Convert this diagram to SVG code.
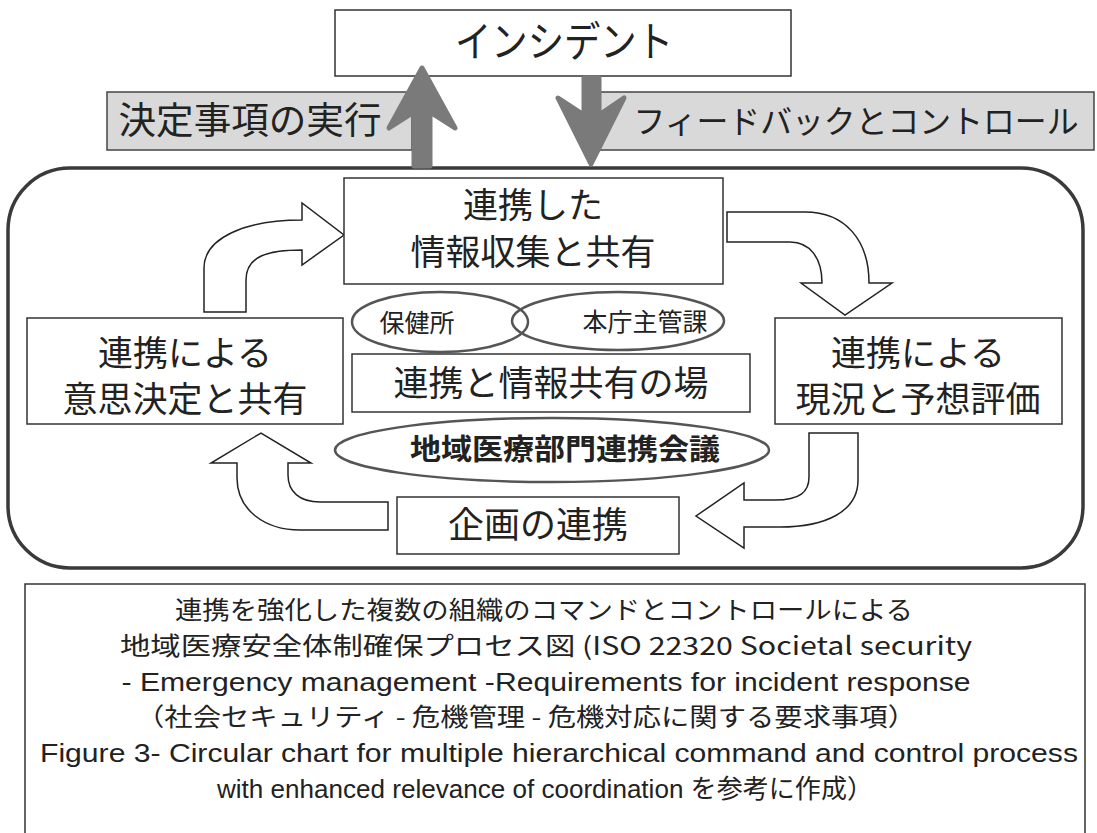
<svg xmlns="http://www.w3.org/2000/svg" width="1097" height="833" viewBox="0 0 1097 833">
<style>
.jp{font-family:"Noto Sans CJK JP","Liberation Sans",sans-serif;fill:#222;text-anchor:middle}
.en{font-family:"Liberation Sans","Noto Sans CJK JP",sans-serif;fill:#222;text-anchor:middle}
.box{fill:#fff;stroke:#333;stroke-width:1.5}
.lbl{fill:#d9d9d9;stroke:#444;stroke-width:1.5}
.ell{fill:none;stroke:#555;stroke-width:2.5}
.oarrow{fill:#fff;stroke:#222;stroke-width:1.5;stroke-linejoin:miter}
.big{fill:#7a7a7a;stroke:#7a7a7a;stroke-width:5;stroke-linejoin:round}
</style>

<g id="frame">
<rect x="8" y="168" width="1075" height="400" rx="62" ry="62" fill="none" stroke="#3a3a3a" stroke-width="3.5"/>
</g>

<g id="label-execute">
<rect class="lbl" x="107" y="92" width="305" height="58"/>
<text class="jp" x="250" y="134" font-size="37" textLength="263" lengthAdjust="spacingAndGlyphs">決定事項の実行</text>
</g>

<g id="label-feedback">
<rect class="lbl" x="593" y="92" width="501" height="58"/>
<text class="jp" x="856" y="133" font-size="32" textLength="445" lengthAdjust="spacingAndGlyphs">フィードバックとコントロール</text>
</g>

<g id="incident">
<rect class="box" x="335" y="10" width="456" height="66"/>
<text class="jp" x="564" y="57" font-size="42" textLength="218" lengthAdjust="spacingAndGlyphs">インシデント</text>
</g>

<g id="connectors">
<path class="big" d="M422,68 L455,128 L430,112 L430,166 L414,166 L414,112 L389,128 Z"/>
<path class="big" d="M584,78 L599,78 L599,115 L624,98 L591,164 L558,98 L584,115 Z"/>
<path class="oarrow" d="M204,312 L204,268 C204,238 245,220 302,220 L302,203 L344,235 L302,265 L302,250 C268,250 246,256 246,280 L246,312 Z"/>
<path class="oarrow" d="M727,212 L805,212 C845,212 869,240 869,283 L892,283 L845,315 L801,283 L822,283 C822,258 810,242 790,242 L727,242 Z"/>
<path class="oarrow" d="M809,433 L858,433 L858,480 C858,512 825,527 780,527 L744,527 L744,548 L696,516 L744,483 L744,500 L775,500 C800,500 809,492 809,477 Z"/>
<path class="oarrow" d="M388,502 L320,502 C300,502 288,492 288,475 L288,463 L311,463 L261,433 L211,463 L237,463 L237,478 C237,510 265,530 300,530 L388,530 Z"/>
</g>

<g id="collect">
<rect class="box" x="344" y="178" width="379" height="106"/>
<text class="jp" x="533" y="218" font-size="35">連携した</text>
<text class="jp" x="533" y="265" font-size="35">情報収集と共有</text>
</g>

<g id="decide">
<rect class="box" x="27" y="318" width="316" height="106"/>
<text class="jp" x="185" y="366" font-size="35">連携による</text>
<text class="jp" x="185" y="412" font-size="35">意思決定と共有</text>
</g>

<g id="assess">
<rect class="box" x="775" y="318" width="287" height="106"/>
<text class="jp" x="918" y="366" font-size="35">連携による</text>
<text class="jp" x="918" y="412" font-size="35">現況と予想評価</text>
</g>

<g id="hokenjo">
<ellipse class="ell" cx="440" cy="322" rx="88" ry="30"/>
<text class="jp" x="417" y="332" font-size="25">保健所</text>
</g>

<g id="honcho">
<ellipse class="ell" cx="618" cy="321" rx="106" ry="29"/>
<text class="jp" x="645" y="331" font-size="25">本庁主管課</text>
</g>

<g id="place">
<rect class="box" x="352" y="354" width="398" height="58"/>
<text class="jp" x="551" y="396" font-size="35">連携と情報共有の場</text>
</g>

<g id="council">
<ellipse class="ell" cx="552" cy="450" rx="217" ry="32"/>
<text class="jp" x="565" y="460" font-size="29" font-weight="bold" textLength="310" lengthAdjust="spacingAndGlyphs">地域医療部門連携会議</text>
</g>

<g id="planning">
<rect class="box" x="397" y="497" width="282" height="57"/>
<text class="jp" x="538" y="538" font-size="36">企画の連携</text>
</g>

<g id="caption">
<rect class="box" x="25" y="584" width="1060" height="260"/>
<text class="jp" x="544" y="619" font-size="25" textLength="738" lengthAdjust="spacingAndGlyphs">連携を強化した複数の組織のコマンドとコントロールによる</text>
<text class="jp" x="546" y="655" font-size="25" textLength="852" lengthAdjust="spacingAndGlyphs">地域医療安全体制確保プロセス図 (ISO 22320 Societal security</text>
<text class="en" x="546" y="691" font-size="25" textLength="849" lengthAdjust="spacingAndGlyphs">- Emergency management -Requirements for incident response</text>
<text class="jp" x="526" y="726" font-size="25" textLength="780" lengthAdjust="spacingAndGlyphs">（社会セキュリティ - 危機管理 - 危機対応に関する要求事項）</text>
<text class="en" x="559" y="762" font-size="25" textLength="1038" lengthAdjust="spacingAndGlyphs">Figure 3- Circular chart for multiple hierarchical command and control process</text>
<text class="en" x="545" y="798" font-size="26" textLength="656" lengthAdjust="spacingAndGlyphs">with enhanced relevance of coordination を参考に作成）</text>
</g>
</svg>
